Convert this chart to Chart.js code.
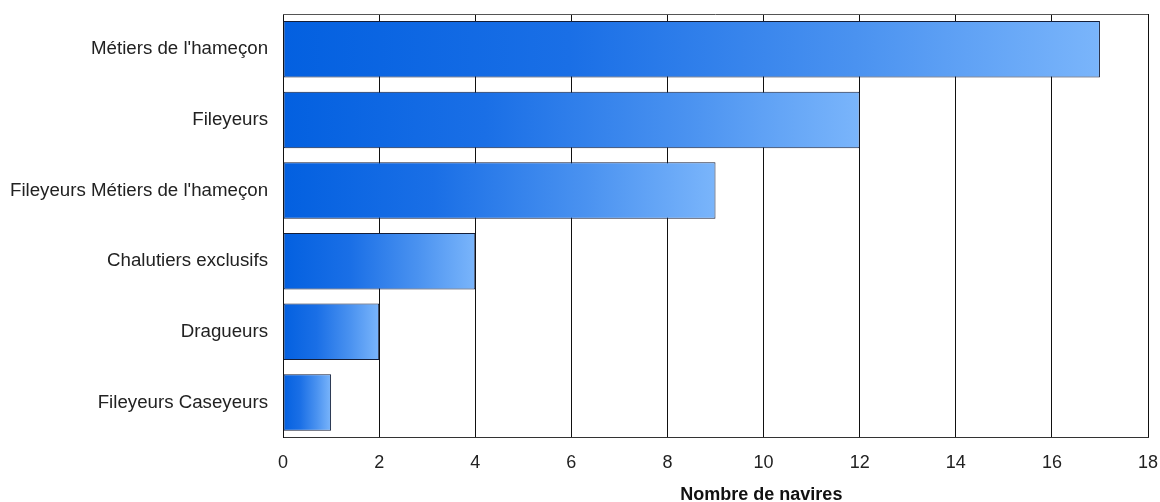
<!DOCTYPE html>
<html>
<head>
<meta charset="utf-8">
<script src="https://cdn.jsdelivr.net/npm/chart.js@4"></script>
<style>
  html, body { margin:0; padding:0; background:#fff; }
  #wrap { width:1160px; height:502px; }
</style>
</head>
<body>
<div id="wrap"><canvas id="chart" width="1160" height="502"></canvas></div>
<script>
// DATA
const categories = [
  "Métiers de l'hameçon",
  "Fileyeurs",
  "Fileyeurs Métiers de l'hameçon",
  "Chalutiers exclusifs",
  "Dragueurs",
  "Fileyeurs Caseyeurs"
];
const navires = [17, 12, 9, 4, 2, 1];
const xTicks = [0, 2, 4, 6, 8, 10, 12, 14, 16, 18];
const axisTitle = "Nombre de navires";

// gradient per bar, dark on the left, light at the end of the bar
function barGradient(ctx){
  const chart = ctx.chart;
  if(!chart.chartArea || !chart.scales.x) return "#2a78ea";
  const x = chart.scales.x;
  const x0 = x.getPixelForValue(0);
  const x1 = x.getPixelForValue(ctx.raw);
  const g = chart.ctx.createLinearGradient(x0, 0, x1, 0);
  g.addColorStop(0, "#0360e0");
  g.addColorStop(0.35, "#1a6fe6");
  g.addColorStop(0.7, "#4a92f0");
  g.addColorStop(1, "#7ab5fb");
  return g;
}

// top border of the plot area + axis title (sits a bit right of centre in the original)
const frame = {
  id: "frame",
  afterDraw(chart){
    const a = chart.chartArea, c = chart.ctx;
    c.save();
    c.strokeStyle = "#555";
    c.lineWidth = 1;
    c.beginPath();
    c.moveTo(a.left, a.top + 0.5);
    c.lineTo(a.right, a.top + 0.5);
    c.stroke();

    const xs = chart.scales.x;
    c.font = "bold 18px 'Liberation Sans', Arial, sans-serif";
    c.fillStyle = "#111";
    c.textAlign = "center";
    c.textBaseline = "middle";
    c.fillText(axisTitle, a.left + a.width * 0.553, xs.bottom - 11);
    c.restore();
  }
};

Chart.defaults.font.family = "'Liberation Sans', Arial, sans-serif";
Chart.defaults.font.size = 18;
Chart.defaults.color = "#222";

new Chart(document.getElementById("chart"), {
  type: "bar",
  data: {
    labels: categories,
    datasets: [{
      data: navires,
      backgroundColor: barGradient,
      borderColor: "#141e38",
      borderWidth: 1,
      borderSkipped: false,
      barPercentage: 0.8,
      categoryPercentage: 1.0
    }]
  },
  options: {
    indexAxis: "y",
    responsive: false,
    animation: false,
    layout: { padding: { left: -5, right: 0, top: 0, bottom: -4 } },
    plugins: {
      legend: { display: false },
      tooltip: { enabled: false }
    },
    scales: {
      x: {
        min: 0,
        max: 18,
        afterBuildTicks(axis){ axis.ticks = xTicks.map(v => ({ value: v })); },
        afterFit(scale){ scale.paddingRight = 12; scale.paddingLeft = 0; },
        grid: { color: "#111", lineWidth: 1, drawTicks: false },
        border: { color: "#333", width: 1 },
        ticks: { padding: 14, color: "#222", font: { size: 18 } },
        title: {
          display: true,
          text: axisTitle,
          font: { weight: "bold", size: 18 },
          color: "rgba(0,0,0,0)",
          padding: { top: -3, bottom: 0 }
        }
      },
      y: {
        afterFit(scale){ scale.paddingTop = 14; scale.paddingBottom = 0; },
        grid: { display: false, drawTicks: false },
        border: { color: "#111", width: 1 },
        ticks: { padding: 15, color: "#222", font: { size: 18.7 } }
      }
    }
  },
  plugins: [frame]
});
</script>
</body>
</html>
